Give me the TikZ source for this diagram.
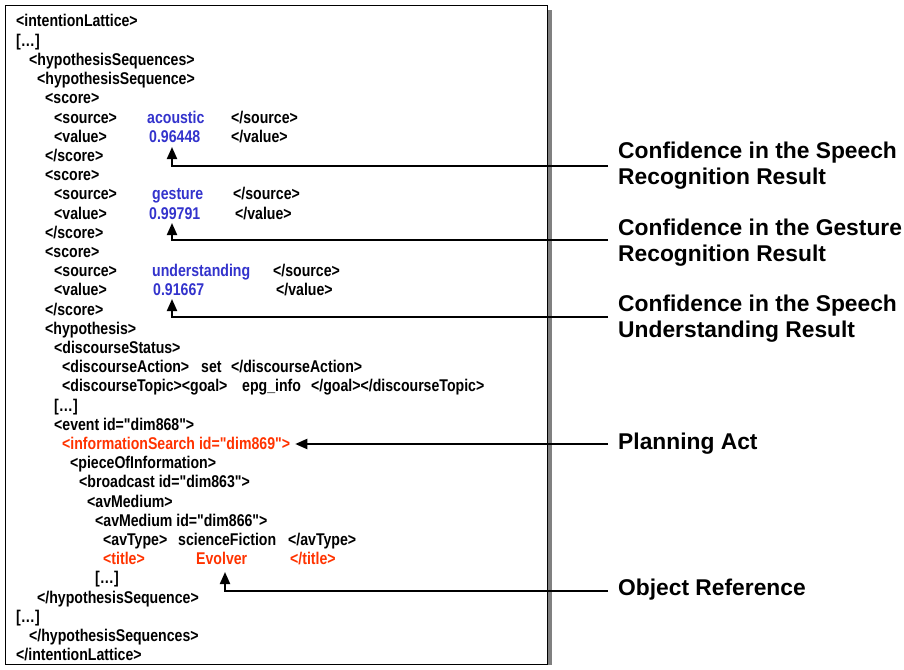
\documentclass[tikz,border=0pt]{standalone}
\usepackage{fontspec}
\usetikzlibrary{arrows.meta}
\newfontfamily\xmlfont{Liberation Sans}[FakeStretch=0.83]
\newfontfamily\notefont{Liberation Sans}
\definecolor{valblue}{RGB}{51,51,204}
\definecolor{hotred}{RGB}{255,51,0}
\tikzset{
  xml/.style={anchor=base west, inner sep=0pt, font=\xmlfont\bfseries\fontsize{17}{19}\selectfont},
  val/.style={xml, text=valblue},
  hot/.style={xml, text=hotred},
  note/.style={anchor=north west, inner sep=0pt, align=left, font=\notefont\bfseries\fontsize{22.8}{26}\selectfont},
  pointer/.style={-{Triangle[width=10pt,length=12pt]}, line width=2pt}
}
\begin{document}
\begin{tikzpicture}[x=1pt, y=-1pt]
\useasboundingbox (0,0) rectangle (904,669);
% listing frame
\fill[gray] (547,10) rectangle (551.5,665);
\draw[line width=1pt] (5,6) rectangle (547,664);
% xml listing
\node[xml] (l1)  at (16,27)    {<intentionLattice>};
\node[xml] (l2)  at (16,46.2)  {[…]};
\node[xml] (l3)  at (29,65.4)  {<hypothesisSequences>};
\node[xml] (l4)  at (37,84.6)  {<hypothesisSequence>};
\node[xml] (l5)  at (45,103.8) {<score>};
\node[xml] (l6)  at (54,123)   {<source>};   \node[val] (src1) at (147,123)   {acoustic};      \node[xml] (l6e)  at (231,123)   {</source>};
\node[xml] (l7)  at (54,142.2) {<value>};    \node[val] (v1)   at (149,142.2) {0.96448};       \node[xml] (l7e)  at (231,142.2) {</value>};
\node[xml] (l8)  at (45,161.4) {</score>};
\node[xml] (l9)  at (45,180.6) {<score>};
\node[xml] (l10) at (54,199.8) {<source>};   \node[val] (src2) at (152,199.8) {gesture};       \node[xml] (l10e) at (233,199.8) {</source>};
\node[xml] (l11) at (54,219)   {<value>};    \node[val] (v2)   at (149,219)   {0.99791};       \node[xml] (l11e) at (235,219)   {</value>};
\node[xml] (l12) at (45,238.2) {</score>};
\node[xml] (l13) at (45,257.4) {<score>};
\node[xml] (l14) at (54,276.6) {<source>};   \node[val] (src3) at (152,276.6) {understanding}; \node[xml] (l14e) at (273,276.6) {</source>};
\node[xml] (l15) at (54,295.8) {<value>};    \node[val] (v3)   at (153,295.8) {0.91667};       \node[xml] (l15e) at (276,295.8) {</value>};
\node[xml] (l16) at (45,315)   {</score>};
\node[xml] (l17) at (45,334.2) {<hypothesis>};
\node[xml] (l18) at (54,353.4) {<discourseStatus>};
\node[xml] (l19) at (62,372.6) {<discourseAction>};       \node[xml] (act) at (201,372.6) {set};      \node[xml] (l19e) at (231,372.6) {</discourseAction>};
\node[xml] (l20) at (62,391.8) {<discourseTopic><goal>};  \node[xml] (top) at (242,391.8) {epg\_info}; \node[xml] (l20e) at (311,391.8) {</goal></discourseTopic>};
\node[xml] (l21) at (54,411)   {[…]};
\node[xml] (l22) at (54,430.2) {<event id="dim868">};
\node[hot] (srch) at (62,449.4) {<informationSearch id="dim869">};
\node[xml] (l24) at (70,468.6) {<pieceOfInformation>};
\node[xml] (l25) at (79,487.8) {<broadcast id="dim863">};
\node[xml] (l26) at (87,507)   {<avMedium>};
\node[xml] (l27) at (95,526.2) {<avMedium id="dim866">};
\node[xml] (l28) at (103,545.4) {<avType>};  \node[xml] (genre) at (178,545.4) {scienceFiction}; \node[xml] (l28e) at (288,545.4) {</avType>};
\node[hot] (l29) at (103,564.6) {<title>};   \node[hot] (ttl)   at (196,564.6) {Evolver};        \node[hot] (l29e) at (290,564.6) {</title>};
\node[xml] (l30) at (95,583.8) {[…]};
\node[xml] (l31) at (37,603)   {</hypothesisSequence>};
\node[xml] (l32) at (16,622.2) {[…]};
\node[xml] (l33) at (29,641.4) {</hypothesisSequences>};
\node[xml] (l34) at (16,660.6) {</intentionLattice>};
% callouts
\node[note] (conf1) at (618,141.5) {Confidence in the Speech\\Recognition Result};
\node[note] (conf2) at (618,218.5) {Confidence in the Gesture\\Recognition Result};
\node[note] (conf3) at (618,294.5) {Confidence in the Speech\\Understanding Result};
\node[note, anchor=base west] (plan) at (618,449) {Planning Act};
\node[note, anchor=base west] (oref) at (618,595) {Object Reference};
\coordinate (e1) at (608,166);  \coordinate (t1) at (172,147);
\coordinate (e2) at (608,240);  \coordinate (t2) at (172,223);
\coordinate (e3) at (608,317);  \coordinate (t3) at (172,299);
\coordinate (e4) at (608,444);
\coordinate (e5) at (608,591);  \coordinate (t5) at (225,572);
\draw[pointer] (e1) -| (t1);
\draw[pointer] (e2) -| (t2);
\draw[pointer] (e3) -| (t3);
\draw[pointer, shorten >=5pt] (e4) -- (e4 -| srch.east);
\draw[pointer] (e5) -| (t5);
\end{tikzpicture}
\end{document}
